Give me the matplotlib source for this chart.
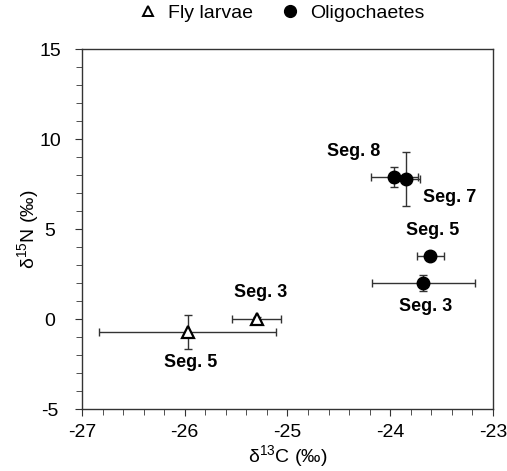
import matplotlib
matplotlib.use("Agg")
import matplotlib.pyplot as plt
from matplotlib.ticker import MultipleLocator
from matplotlib.lines import Line2D

plt.rcParams['font.family'] = ['Liberation Sans', 'DejaVu Sans']
plt.rcParams['mathtext.fontset'] = 'custom'
plt.rcParams['mathtext.rm'] = 'Liberation Sans'
plt.rcParams['mathtext.it'] = 'Liberation Sans'
plt.rcParams['axes.unicode_minus'] = False

# Fly larvae
fly_labels = ['Seg. 3', 'Seg. 5']
fly_x = [-25.30, -25.97]
fly_y = [0.00, -0.72]
fly_xerr = [0.24, 0.86]
fly_yerr = [0.10, 0.93]

# Oligochaetes
oli_labels = ['Seg. 8', 'Seg. 7', 'Seg. 5', 'Seg. 3']
oli_x = [-23.96, -23.85, -23.61, -23.68]
oli_y = [7.91, 7.77, 3.52, 1.99]
oli_xerr = [0.23, 0.14, 0.13, 0.50]
oli_yerr = [0.56, 1.50, 0.10, 0.45]

fig = plt.figure(figsize=(5.07, 4.71), dpi=100)
ax = fig.add_axes([0.1617, 0.1316, 0.8107, 0.7637])

ax.errorbar(fly_x, fly_y, xerr=fly_xerr, yerr=fly_yerr, fmt='none',
            ecolor='#333333', elinewidth=1, capsize=3, capthick=1, zorder=2)
ax.errorbar(oli_x, oli_y, xerr=oli_xerr, yerr=oli_yerr, fmt='none',
            ecolor='#333333', elinewidth=1, capsize=3, capthick=1, zorder=2)
ax.plot(fly_x, fly_y, linestyle='none', marker='^', markersize=9,
        markerfacecolor='white', markeredgecolor='black', markeredgewidth=1.6, zorder=3)
ax.plot(oli_x, oli_y, linestyle='none', marker='o', markersize=9,
        markerfacecolor='black', markeredgecolor='black', zorder=3)

# labels (offsets in points)
fly_off = [(3, 19.5), (2, -22)]
oli_off = [(-29.5, 18), (31.7, -13), (1.4, 18), (2, -16.5)]
for lab, x, y, off in zip(fly_labels, fly_x, fly_y, fly_off):
    ax.annotate(lab, (x, y), xytext=off, textcoords='offset points',
                ha='center', va='center', fontsize=13, fontweight='bold')
for lab, x, y, off in zip(oli_labels, oli_x, oli_y, oli_off):
    ax.annotate(lab, (x, y), xytext=off, textcoords='offset points',
                ha='center', va='center', fontsize=13, fontweight='bold')

ax.set_xlim(-27, -23)
ax.set_ylim(-5, 15)
ax.xaxis.set_major_locator(MultipleLocator(1))
ax.xaxis.set_minor_locator(MultipleLocator(0.2))
ax.yaxis.set_major_locator(MultipleLocator(5))
ax.yaxis.set_minor_locator(MultipleLocator(1))
ax.tick_params(which='both', direction='out', labelsize=14, color='#333333')
ax.tick_params(which='major', length=5)
ax.tick_params(which='minor', length=4)
ax.tick_params(axis='y', which='major', pad=18)
ax.tick_params(axis='x', which='major', pad=6)
for t in ax.get_yticklabels():
    t.set_horizontalalignment('center')
for s in ax.spines.values():
    s.set_color('#333333')
    s.set_linewidth(1)

ax.set_xlabel('δ$^{13}$C (‰)', fontsize=14, labelpad=1)
ax.set_ylabel('δ$^{15}$N (‰)', fontsize=14, labelpad=-1)

handles = [Line2D([], [], linestyle='none', marker='^', markersize=7,
                  markerfacecolor='white', markeredgecolor='black', markeredgewidth=1.4),
           Line2D([], [], linestyle='none', marker='o', markersize=8.5,
                  markerfacecolor='black', markeredgecolor='black')]
fig.legend(handles, ['Fly larvae', 'Oligochaetes'], loc='center',
           bbox_to_anchor=(0.553, 0.972), ncol=2, frameon=False, fontsize=14,
           handletextpad=0.4, columnspacing=1.35, handlelength=1.2)

fig.savefig('out.png', dpi=100)
